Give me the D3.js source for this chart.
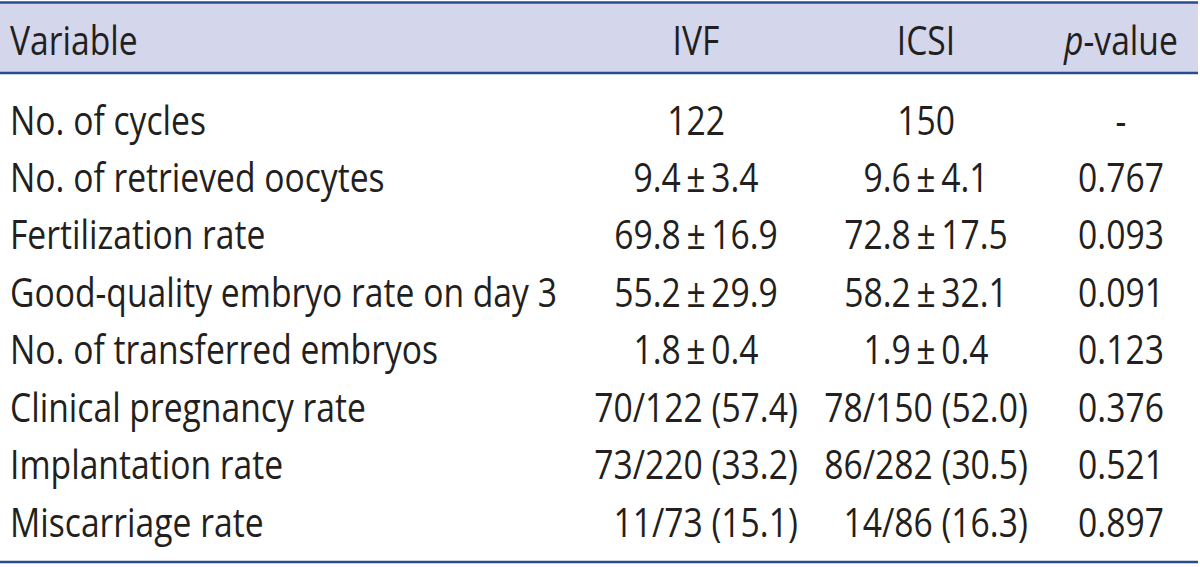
<!DOCTYPE html>
<html>
<head>
<meta charset="utf-8">
<script src="https://cdn.jsdelivr.net/npm/d3@7"></script>
<style>
body { margin: 0; background: #fff; }
</style>
</head>
<body>
<div id="chart"></div>
<script>
var variables = ["No. of cycles", "No. of retrieved oocytes", "Fertilization rate",
  "Good-quality embryo rate on day 3", "No. of transferred embryos",
  "Clinical pregnancy rate", "Implantation rate", "Miscarriage rate"];
var ivf = ["122", "9.4\u2009\u00b1\u20093.4", "69.8\u2009\u00b1\u200916.9", "55.2\u2009\u00b1\u200929.9", "1.8\u2009\u00b1\u20090.4",
  "70/122 (57.4)", "73/220 (33.2)", "11/73 (15.1)"];
var icsi = ["150", "9.6\u2009\u00b1\u20094.1", "72.8\u2009\u00b1\u200917.5", "58.2\u2009\u00b1\u200932.1", "1.9\u2009\u00b1\u20090.4",
  "78/150 (52.0)", "86/282 (30.5)", "14/86 (16.3)"];
var pvalues = ["-", "0.767", "0.093", "0.091", "0.123", "0.376", "0.521", "0.897"];
var headers = ["Variable", "IVF", "ICSI", "p-value"];

(function () {
var width = 1200, height = 567;
var svg = d3.select("#chart").append("svg")
  .attr("width", width).attr("height", height)
  .style("font-family", "'Open Sans', sans-serif")

var ink = "#231f20", rule = "#2b4c8c", band = "#d4d6ec";
var fs = 41, sx = 1; // horizontal squeeze computed below

var y = d3.scalePoint().domain(variables).range([120, 522])
var colX = [10, 696, 926, 1121]

svg.append("rect").attr("x", 0).attr("y", 2).attr("width", 1198).attr("height", 71).attr("fill", band)
svg.append("line").attr("x1", 0).attr("x2", 1198).attr("y1", 2.5).attr("y2", 2.5).attr("stroke", rule).attr("stroke-width", 2.5)
svg.append("line").attr("x1", 0).attr("x2", 1198).attr("y1", 73).attr("y2", 73).attr("stroke", rule).attr("stroke-width", 2.5)
svg.append("line").attr("x1", 0).attr("x2", 1198).attr("y1", 562).attr("y2", 562).attr("stroke", rule).attr("stroke-width", 2.5)

function measure(s) {
  var p = svg.append("text").attr("font-size", fs).text(s)
  var w = p.node().getComputedTextLength()
  p.remove()
  return w
}
// match the condensed look of the original type
sx = 547 / measure(variables[3])

function put(x, cy, anchor) {
  return svg.append("text")
    .attr("transform", "translate(" + x + "," + (cy + 14.5) + ") scale(" + sx + ",1)")
    .attr("text-anchor", anchor)
    .attr("font-size", fs)
    .attr("fill", ink)
}

// header
headers.forEach(function (h, i) {
  var t = put(colX[i], 40, i === 0 ? "start" : "middle")
  if (h === "p-value") {
    t.append("tspan").attr("font-style", "italic").text("p")
    t.append("tspan").text("-value")
  } else t.text(h)
})

// fraction rows sit right-aligned under the widest one
function rightEdge(col, cx) {
  var w = d3.max(col.filter(function (s) { return s.indexOf("/") >= 0 }), measure) * sx
  return cx + w / 2
}
var ivfEdge = rightEdge(ivf, colX[1]), icsiEdge = rightEdge(icsi, colX[2])

function cell(s, cx, edge, cy) {
  if (s.indexOf("/") >= 0) put(edge, cy, "end").text(s)
  else put(cx, cy, "middle").text(s)
}

variables.forEach(function (v, i) {
  put(colX[0], y(v), "start").text(v)
  cell(ivf[i], colX[1], ivfEdge, y(v))
  cell(icsi[i], colX[2], icsiEdge, y(v))
  put(colX[3], y(v), "middle").text(pvalues[i])
})
})();
</script>
</body>
</html>
